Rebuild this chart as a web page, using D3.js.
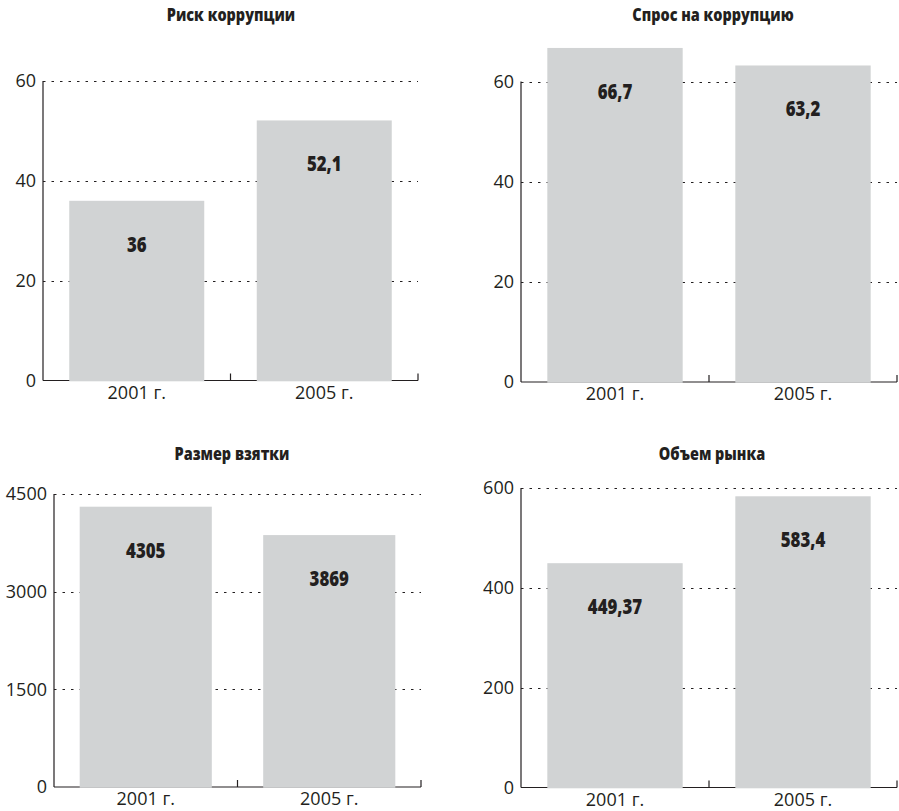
<!DOCTYPE html>
<html>
<head>
<meta charset="utf-8">
<script src="https://cdn.jsdelivr.net/npm/d3@7"></script>
<style>
  body { margin: 0; background: #fff; }
  .tick-label { font-family: "Open Sans", sans-serif; font-size: 18px; fill: #231f20; }
  .title { font-family: "Open Sans", sans-serif; font-weight: 800; font-size: 17px; fill: #231f20; }
  .value { font-family: "Open Sans", sans-serif; font-weight: 800; font-size: 21px; fill: #231f20; }
</style>
</head>
<body>
<svg id="chart" width="899" height="811"></svg>
<script>
// DATA
const years = ["2001 г.", "2005 г."];

const riskTitle = "Риск коррупции";
const riskValues = [36, 52.1];
const riskTicks = [0, 20, 40, 60];

const demandTitle = "Спрос на коррупцию";
const demandValues = [66.7, 63.2];
const demandTicks = [0, 20, 40, 60];

const bribeTitle = "Размер взятки";
const bribeValues = [4305, 3869];
const bribeTicks = [0, 1500, 3000, 4500];

const marketTitle = "Объем рынка";
const marketValues = [449.37, 583.4];
const marketTicks = [0, 200, 400, 600];

// layout of the 4 panels (pixels)
const panels = [
  { title: riskTitle,   values: riskValues,   ticks: riskTicks,   left: 43,  right: 418, bottom: 380.5, top: 81,  titleX: 231, titleY: 21 },
  { title: demandTitle, values: demandValues, ticks: demandTicks, left: 521, right: 897, bottom: 382,   top: 81.5, titleX: 713, titleY: 21 },
  { title: bribeTitle,  values: bribeValues,  ticks: bribeTicks,  left: 54,  right: 421, bottom: 787,   top: 494, titleX: 232, titleY: 460 },
  { title: marketTitle, values: marketValues, ticks: marketTicks, left: 521, right: 897, bottom: 787.5, top: 488, titleX: 712, titleY: 460 }
];

const ink = "#231f20";
const barColor = "#d1d3d4";
const condenseTitle = 0.85; // fake a condensed bold face
const condenseValue = 0.8;
const svg = d3.select("#chart");

function drawPanel(p) {
  const g = svg.append("g");

  const x = d3.scaleBand()
    .domain(years)
    .range([p.left, p.right])
    .paddingInner(0.28)
    .paddingOuter(0.14);

  const y = d3.scaleLinear()
    .domain([0, d3.max(p.ticks)])
    .range([p.bottom, p.top]);

  // title
  g.append("text")
    .attr("class", "title")
    .attr("transform", `translate(${p.titleX},${p.titleY}) scale(${condenseTitle},1)`)
    .attr("text-anchor", "middle")
    .text(p.title);

  // dotted gridlines
  g.selectAll(".grid").data(p.ticks.filter(t => t > 0))
    .enter().append("line")
    .attr("x1", p.left)
    .attr("x2", p.right)
    .attr("y1", d => Math.round(y(d)) + 0.5)
    .attr("y2", d => Math.round(y(d)) + 0.5)
    .attr("stroke", ink)
    .attr("stroke-width", 1)
    .attr("stroke-dasharray", "2.5,6");

  // y axis line
  g.append("line")
    .attr("x1", p.left).attr("x2", p.left)
    .attr("y1", y(d3.max(p.ticks))).attr("y2", p.bottom)
    .attr("stroke", ink).attr("stroke-width", 1.2);

  // baseline with ticks at band edges
  const step = x.step();
  const edges = years.map((d, i) => p.left + step * (i + 1));
  g.append("line")
    .attr("x1", p.left).attr("x2", p.right)
    .attr("y1", p.bottom).attr("y2", p.bottom)
    .attr("stroke", ink).attr("stroke-width", 1.2);
  g.selectAll(".xtick").data(edges)
    .enter().append("line")
    .attr("x1", d => d).attr("x2", d => d)
    .attr("y1", p.bottom).attr("y2", p.bottom - 7)
    .attr("stroke", ink).attr("stroke-width", 1.2);

  // y tick labels
  g.selectAll(".ylab").data(p.ticks)
    .enter().append("text")
    .attr("class", "tick-label")
    .attr("x", p.left - 7)
    .attr("y", d => y(d))
    .attr("dy", "0.36em")
    .attr("text-anchor", "end")
    .text(d => d);

  // x labels
  g.selectAll(".xlab").data(years)
    .enter().append("text")
    .attr("class", "tick-label")
    .attr("x", d => x(d) + x.bandwidth() / 2)
    .attr("y", p.bottom + 18)
    .attr("text-anchor", "middle")
    .text(d => d);

  // bars (cover the baseline and grid)
  const rows = years.map((d, i) => ({ year: d, value: p.values[i] }));
  g.selectAll(".bar").data(rows)
    .enter().append("rect")
    .attr("x", d => x(d.year))
    .attr("y", d => y(d.value))
    .attr("width", x.bandwidth())
    .attr("height", d => p.bottom + 0.8 - y(d.value))
    .attr("fill", barColor);

  // value labels
  g.selectAll(".val").data(rows)
    .enter().append("text")
    .attr("class", "value")
    .attr("transform", d => `translate(${x(d.year) + x.bandwidth() / 2},${y(d.value) + 51}) scale(${condenseValue},1)`)
    .attr("text-anchor", "middle")
    .text(d => String(d.value).replace(".", ","));
}

panels.forEach(drawPanel);
</script>
</body>
</html>
